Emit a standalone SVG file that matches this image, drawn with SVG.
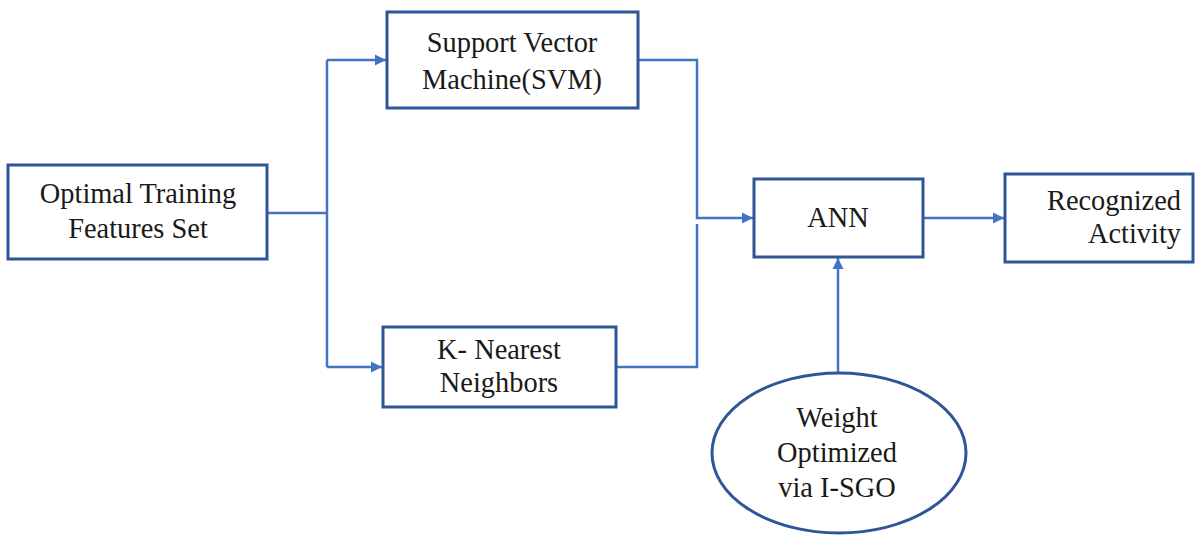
<svg xmlns="http://www.w3.org/2000/svg" width="1200" height="545" viewBox="0 0 1200 545">
<defs>
<style>
.box{fill:#fff;stroke:#2F5597;stroke-width:3}
.ln{fill:none;stroke:#4472C4;stroke-width:2.5}
.t{font-family:'Liberation Serif','DejaVu Serif',serif;font-size:28.4px;fill:#1a1a1a;text-anchor:middle}
</style>
<marker id="ah" viewBox="0 0 10 10" refX="10" refY="5" markerWidth="4.5" markerHeight="4.5" orient="auto" markerUnits="strokeWidth">
<path d="M0,0 L10,5 L0,10 z" fill="#4472C4"/>
</marker>
</defs>
<rect width="1200" height="545" fill="#fff"/>
<g id="connectors">
<path class="ln" d="M267,213 H327"/>
<path class="ln" d="M327,60 V367"/>
<path class="ln" d="M327,60 H386" marker-end="url(#ah)"/>
<path class="ln" d="M327,367 H382" marker-end="url(#ah)"/>
<path class="ln" d="M638,60 H697 V218 H753" marker-end="url(#ah)"/>
<path class="ln" d="M616,367 H697 V224"/>
<path class="ln" d="M923,218 H1004" marker-end="url(#ah)"/>
<path class="ln" d="M838,373 V258" marker-end="url(#ah)"/>
</g>
<g id="optimal">
<rect class="box" x="8" y="165" width="259" height="94"/>
<text class="t" x="138" y="203">Optimal Training</text>
<text class="t" x="138" y="238">Features Set</text>
</g>
<g id="svm">
<rect class="box" x="387" y="12" width="251" height="96"/>
<text class="t" x="512" y="52">Support Vector</text>
<text class="t" x="512" y="89">Machine(SVM)</text>
</g>
<g id="knn">
<rect class="box" x="383" y="327" width="233" height="80"/>
<text class="t" x="499" y="359">K- Nearest</text>
<text class="t" x="499" y="392">Neighbors</text>
</g>
<g id="ann">
<rect class="box" x="754" y="179" width="169" height="78"/>
<text class="t" x="838" y="227">ANN</text>
</g>
<g id="recognized">
<rect class="box" x="1005" y="174" width="188" height="88"/>
<text class="t" x="1181" y="210" style="text-anchor:end">Recognized</text>
<text class="t" x="1181" y="243" style="text-anchor:end">Activity</text>
</g>
<g id="weight">
<ellipse class="box" cx="839" cy="453" rx="127" ry="80"/>
<text class="t" x="837" y="427">Weight</text>
<text class="t" x="837" y="462">Optimized</text>
<text class="t" x="837" y="497">via I-SGO</text>
</g>
</svg>
